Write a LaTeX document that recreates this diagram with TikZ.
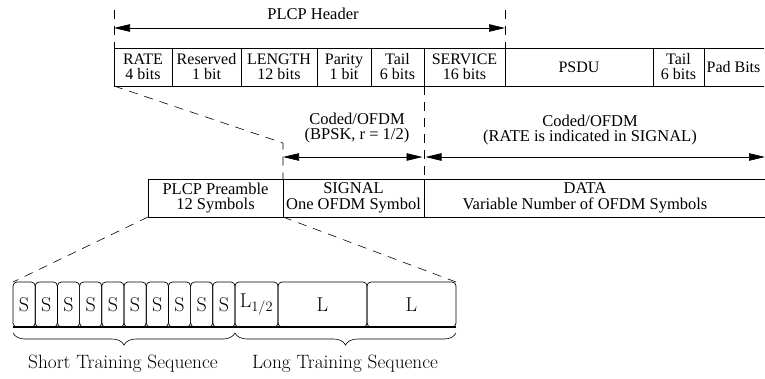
\documentclass[tikz,border=0pt]{standalone}
\usepackage{fontspec}
\newfontfamily\tms{Liberation Serif}
\usetikzlibrary{arrows.meta,decorations.pathreplacing,calc}
\begin{document}
\begin{tikzpicture}[x=1pt,y=-1pt,line width=0.7pt,
  field/.style={draw, minimum height=38pt, inner sep=0pt, outer sep=0pt, anchor=north west, align=center,
    font=\tms\fontsize{16}{15}\selectfont},
  mid/.style={draw, minimum height=38pt, inner sep=0pt, outer sep=0pt, anchor=north west, align=center,
    font=\tms\fontsize{16.5}{15.5}\selectfont},
  lbl/.style={align=center, inner sep=0pt, font=\tms\fontsize{16.5}{15.5}\selectfont},
  sbox/.style={draw, rounded corners=4pt, minimum height=45pt, inner sep=0pt, outer sep=0pt, anchor=north west,
    font=\fontsize{20}{20}\selectfont},
  dsh/.style={dash pattern=on 9pt off 7pt, line width=0.6pt},
  arr/.style={{Triangle[length=16pt,width=7.5pt]}-{Triangle[length=16pt,width=7.5pt]}},
  brc/.style={decorate, decoration={brace, mirror, amplitude=12pt}, line width=0.6pt},
  blbl/.style={inner sep=0pt, font=\fontsize{19.3}{19}\selectfont}
]
\useasboundingbox (0,0) rectangle (765,379);

% ---- top row: PLCP header fields ----
\node[field, minimum width=58pt] (rate) at (114,48) {RATE\\4 bits};
\node[field, minimum width=69pt] (reserved) at (rate.north east) {Reserved\\1 bit};
\node[field, minimum width=76pt] (length) at (reserved.north east) {LENGTH\\12 bits};
\node[field, minimum width=54pt] (parity) at (length.north east) {Parity\\1 bit};
\node[field, minimum width=53pt] (tail1) at (parity.north east) {Tail\\6 bits};
\node[field, minimum width=81pt] (service) at (tail1.north east) {SERVICE\\16 bits};
\node[field, minimum width=148pt] (psdu) at (service.north east) {PSDU};
\node[field, minimum width=51pt] (tail2) at (psdu.north east) {Tail\\6 bits};
\node[field, draw=none, minimum width=61pt, xshift=-1pt] (pad) at (tail2.north east) {Pad Bits};
\draw (tail2.north east) -- (pad.north east) (tail2.south east) -- (pad.south east);

% PLCP header arrow
\coordinate (hl) at (114,10);
\coordinate (hr) at (505,10);
\coordinate (hla) at (114,28);
\coordinate (hra) at (505,28);
\draw[dsh] (hl) -- (rate.north west);
\draw[dsh] (hr) -- (service.north east);
\draw[arr] (hla) -- (hra);
\node[lbl] (hdr) at (313,14) {PLCP Header};

% ---- middle row ----
\node[mid, minimum width=135pt] (preamble) at (148,179) {PLCP Preamble\\12 Symbols};
\node[mid, minimum width=141pt] (signal) at (preamble.north east) {SIGNAL\\One OFDM Symbol};
\node[mid, draw=none, minimum width=341pt] (data) at (signal.north east) {};
\draw (data.north west) -- (data.north east) (data.south west) -- (data.south east);
\node[lbl] (datatxt) at (585,198) {DATA\\Variable Number of OFDM Symbols};

\coordinate (sigtop) at (283,143);
\draw[dsh] (rate.south west) -- (sigtop) -- (signal.north west);
\draw[dsh] (service.south west) -- (data.north west);

\coordinate (a1) at (283,157);
\coordinate (a2) at (424,157);
\coordinate (a3) at (765,157);
\draw[arr, shorten >=1.5pt] (a1) -- (a2);
\draw[arr, shorten <=1.5pt] (a2) -- (a3);
\node[lbl] (c1) at (357,128) {Coded/OFDM\\(BPSK, r = 1/2)};
\node[lbl] (c2) at (590,130) {Coded/OFDM\\(RATE is indicated in SIGNAL)};

% ---- bottom: training sequences ----
\node[sbox, minimum width=22.2pt] (s1) at (13,282) {S};
\foreach \i [remember=\i as \j (initially 1)] in {2,...,10}
  \node[sbox, minimum width=22.2pt] (s\i) at (s\j.north east) {S};
\node[sbox, minimum width=43pt] (lh) at (s10.north east) {L$_{1/2}$};
\node[sbox, minimum width=89pt] (l1) at (lh.north east) {L};
\node[sbox, minimum width=89pt] (l2) at (l1.north east) {L};
\draw[line width=1.8pt] (s1.south west) -- (l2.south east);

\draw[dsh] (preamble.south west) -- (s1.north west);
\draw[dsh] (preamble.south east) -- (l2.north east);

\draw[brc] ([yshift=-6pt]s1.south west) -- ([yshift=-6pt]s10.south east);
\draw[brc] ([yshift=-6pt]lh.south west) -- ([yshift=-6pt]l2.south east);
\node[blbl] (stxt) at (123,364) {Short Training Sequence};
\node[blbl] (ltxt) at (345,364) {Long Training Sequence};
\end{tikzpicture}
\end{document}
